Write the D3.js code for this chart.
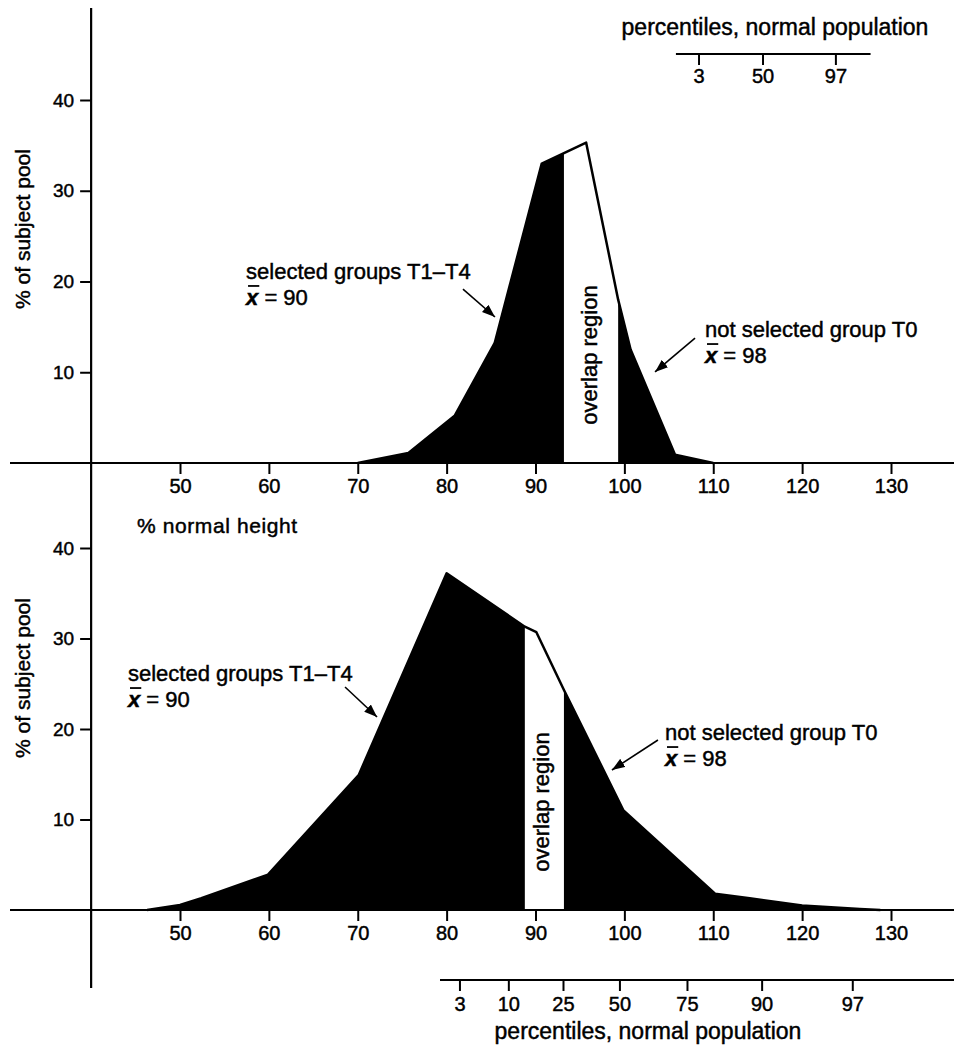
<!DOCTYPE html>
<html><head><meta charset="utf-8">
<script src="https://cdn.jsdelivr.net/npm/d3@7"></script>
<style>
body{margin:0;background:#fff}
svg{display:block;background:#fff}
text{font-family:"Liberation Sans",Arial,Helvetica,sans-serif;fill:#000;stroke:#000;stroke-width:0.45px}
</style>
</head><body><svg id="c" width="954" height="1047"></svg>
<script>
// ---- data ----
const heightTicks = [50, 60, 70, 80, 90, 100, 110, 120, 130];
const poolTicks = [10, 20, 30, 40];
const topHeight = [70, 75.7, 80.9, 85.4, 90.7, 95.7, 99.3, 100.7, 105.7, 110];
const topPool   = [0, 1.1, 5.2, 13.2, 33.0, 35.3, 18.0, 12.5, 0.9, 0];
const topOverlap = [93.2, 99.3];
const bottomHeight = [46.3, 50, 52.4, 59.9, 70.1, 80.0, 88.8, 90.1, 93.2, 99.9, 110.2, 114.1, 120, 126.5, 128.8];
const bottomPool   = [0, 0.55, 1.3, 3.9, 14.9, 37.2, 31.3, 30.7, 24.3, 11.0, 1.8, 1.3, 0.5, 0.1, 0];
const bottomOverlap = [88.8, 93.2];
const insetPctLabels = ["3", "50", "97"];
const insetPctAt = [108.4, 115.6, 123.8];
const bottomPctLabels = ["3", "10", "25", "50", "75", "90", "97"];
const bottomPctAt = [81.5, 87.0, 93.15, 99.5, 107.1, 115.5, 125.7];
const yTitle = "% of subject pool";
const xTitle = "% normal height";
const pctTitle = "percentiles, normal population";
const selLabel = "selected groups T1\u2013T4";
const notSelLabel = "not selected group T0";
const selMean = "90", notSelMean = "98";

// ---- layout ----
const svg = d3.select("#c");
const x = d3.scaleLinear().domain([50, 130]).range([180, 891]);
const yT = d3.scaleLinear().domain([0, 40]).range([463, 100]);
const yB = d3.scaleLinear().domain([0, 40]).range([910, 548]);
const AX = x(40); // vertical axis position

const defs = svg.append("defs");
defs.append("marker").attr("id", "ah").attr("viewBox", "0 0 12 9")
  .attr("refX", 12).attr("refY", 4.5).attr("markerWidth", 13).attr("markerHeight", 10)
  .attr("markerUnits", "userSpaceOnUse").attr("orient", "auto")
  .append("path").attr("d", "M0,0L12,4.5L0,9Z").attr("fill", "#000");

function panel(hs, vs, overlap, y, id) {
  const pts = hs.map((h, i) => ({h, v: vs[i]}));
  const area = d3.area().x(d => x(d.h)).y0(y(0)).y1(d => y(d.v));
  const line = d3.line().x(d => x(d.h)).y(d => y(d.v));
  svg.append("path").datum(pts).attr("d", area).attr("fill", "#000");
  defs.append("clipPath").attr("id", id).append("rect")
    .attr("x", x(overlap[0])).attr("width", x(overlap[1]) - x(overlap[0]))
    .attr("y", 0).attr("height", 1047);
  svg.append("path").datum(pts).attr("d", area).attr("fill", "#fff")
    .attr("clip-path", `url(#${id})`);
  svg.append("path").datum(pts).attr("d", line).attr("fill", "none")
    .attr("stroke", "#000").attr("stroke-width", 2.5).attr("stroke-linejoin", "round");
  // baseline
  svg.append("line").attr("x1", 10).attr("x2", 954).attr("y1", y(0)).attr("y2", y(0))
    .attr("stroke", "#000").attr("stroke-width", 2.2);
  // x axis ticks
  const gx = svg.append("g").attr("transform", `translate(0,${y(0)})`)
    .call(d3.axisBottom(x).tickValues(heightTicks).tickSize(11).tickPadding(5).tickSizeOuter(0));
  gx.select(".domain").remove();
  gx.selectAll("line").attr("stroke-width", 2);
  gx.selectAll("text").style("font-size", "20px");
  // y axis ticks
  const gy = svg.append("g").attr("transform", `translate(${AX},0)`)
    .call(d3.axisLeft(y).tickValues(poolTicks).tickSize(11).tickPadding(6));
  gy.select(".domain").remove();
  gy.selectAll("line").attr("stroke-width", 2);
  gy.selectAll("text").style("font-size", "19px");
}

panel(topHeight, topPool, topOverlap, yT, "ovT");
panel(bottomHeight, bottomPool, bottomOverlap, yB, "ovB");

// vertical axis
svg.append("line").attr("x1", AX).attr("x2", AX).attr("y1", 8).attr("y2", 988)
  .attr("stroke", "#000").attr("stroke-width", 2.2);

// y titles
[229, 678].forEach(cy => {
  svg.append("text").attr("transform", `translate(30,${cy}) rotate(-90)`)
    .attr("text-anchor", "middle").style("font-size", "21px").text(yTitle);
});
svg.append("text").attr("x", 137).attr("y", 533).style("font-size", "21px")
  .attr("letter-spacing", "0.6").text(xTitle);

// labels with mean (x-bar)
function meanLabel(lx, by, title, mean) {
  svg.append("text").attr("x", lx).attr("y", by).style("font-size", "22px").text(title);
  const yb = by + 26;
  const t2 = svg.append("text").attr("x", lx).attr("y", yb).style("font-size", "22px");
  const xs = t2.append("tspan").style("font-style", "italic").style("font-weight", "bold").text("x");
  t2.append("tspan").text(" = " + mean);
  const w = xs.node().getComputedTextLength();
  svg.append("line").attr("x1", lx + 2).attr("x2", lx + w + 1)
    .attr("y1", yb - 19).attr("y2", yb - 19).attr("stroke", "#000").attr("stroke-width", 1.8);
}
function arrow(y, h1, v1, h2, v2) {
  svg.append("line").attr("x1", x(h1)).attr("y1", y(v1)).attr("x2", x(h2)).attr("y2", y(v2))
    .attr("stroke", "#000").attr("stroke-width", 1.6).attr("marker-end", "url(#ah)");
}
// top panel annotations
meanLabel(x(57.43), yT(20.28), selLabel, selMean);
arrow(yT, 81.84, 19.17, 85.44, 16.09);
meanLabel(x(109.07), yT(13.88), notSelLabel, notSelMean);
arrow(yT, 107.95, 13.77, 103.45, 10.03);
svg.append("text").attr("transform", `translate(${x(96.9)},${yT(11.9)}) rotate(-90)`)
  .attr("text-anchor", "middle").style("font-size", "22px").text("overlap region");
// bottom panel annotations
meanLabel(x(44.15), yB(25.3), selLabel, selMean);
arrow(yB, 68.57, 24.64, 72.17, 21.33);
meanLabel(x(104.57), yB(18.78), notSelLabel, notSelMean);
arrow(yB, 103.78, 18.78, 98.6, 15.47);
svg.append("text").attr("transform", `translate(${x(91.5)},${yB(11.93)}) rotate(-90)`)
  .attr("text-anchor", "middle").style("font-size", "22px").text("overlap region");

// inset percentile scale (top right)
const insetY = 54;
svg.append("line").attr("x1", x(105.8)).attr("x2", x(127.7)).attr("y1", insetY).attr("y2", insetY)
  .attr("stroke", "#000").attr("stroke-width", 2.2);
insetPctAt.forEach((h, i) => {
  svg.append("line").attr("x1", x(h)).attr("x2", x(h)).attr("y1", insetY).attr("y2", insetY + 11)
    .attr("stroke", "#000").attr("stroke-width", 2);
  svg.append("text").attr("x", x(h)).attr("y", 83).attr("text-anchor", "middle")
    .style("font-size", "20px").text(insetPctLabels[i]);
});
svg.append("text").attr("x", 775).attr("y", 35).attr("text-anchor", "middle")
  .style("font-size", "23px").text(pctTitle);

// bottom percentile scale
const pY = 980;
svg.append("line").attr("x1", 440).attr("x2", 954).attr("y1", pY).attr("y2", pY)
  .attr("stroke", "#000").attr("stroke-width", 2.2);
bottomPctAt.forEach((h, i) => {
  svg.append("line").attr("x1", x(h)).attr("x2", x(h)).attr("y1", pY).attr("y2", pY + 11)
    .attr("stroke", "#000").attr("stroke-width", 2);
  svg.append("text").attr("x", x(h)).attr("y", 1011).attr("text-anchor", "middle")
    .style("font-size", "20px").text(bottomPctLabels[i]);
});
svg.append("text").attr("x", 648).attr("y", 1039).attr("text-anchor", "middle")
  .style("font-size", "23px").text(pctTitle);
</script>
</body></html>
